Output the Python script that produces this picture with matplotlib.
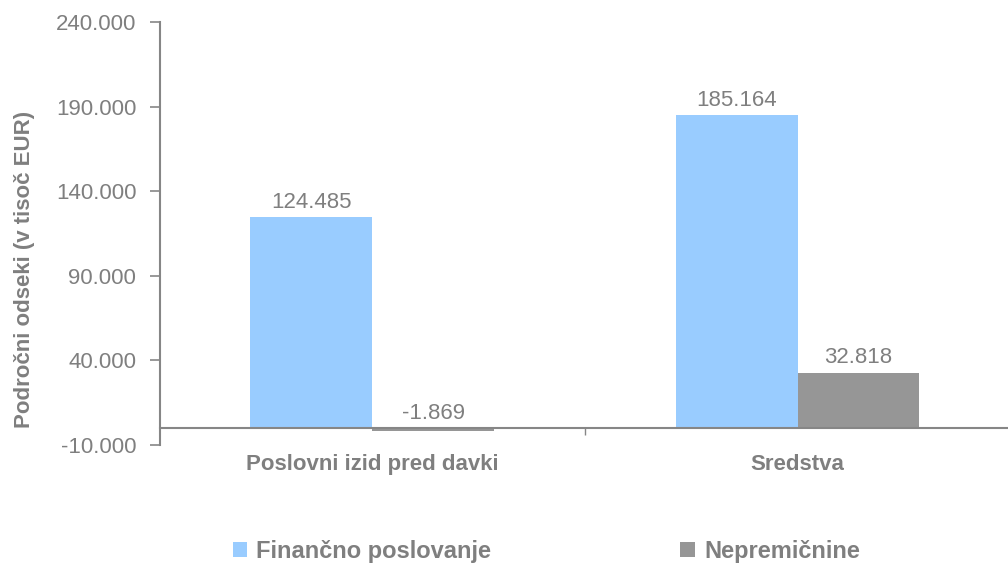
import matplotlib
matplotlib.use("Agg")
import matplotlib.pyplot as plt
import numpy as np
from matplotlib.patches import Patch

categories = ["Poslovni izid pred davki", "Sredstva"]
series_names = ["Finančno poslovanje", "Nepremičnine"]
financno = [124485, 185164]
nepremicnine = [-1869, 32818]
y_ticks = [-10000, 40000, 90000, 140000, 190000, 240000]

colors = ["#99CCFF", "#969696"]
text_gray = "#7F7F7F"
axis_gray = "#868686"

plt.rcParams['font.family'] = ['Liberation Sans', 'DejaVu Sans']

def fmt(v):
    s = f"{abs(v):,}".replace(",", ".")
    return ("-" if v < 0 else "") + s

fig = plt.figure(figsize=(10.08, 5.70), dpi=100)
ax = fig.add_axes([0.1587, 0.2193, 0.8433, 0.7421])

x = np.arange(len(categories))
w = 0.287
for i, (vals, c) in enumerate(zip([financno, nepremicnine], colors)):
    xs = x + (i - 0.5) * w
    ax.bar(xs, vals, width=w, color=c, zorder=2)
    for xi, v in zip(xs, vals):
        ax.annotate(fmt(v), (xi, max(v, 0)), xytext=(0, 3), textcoords="offset points",
                    ha="center", va="bottom", fontsize=16, color=text_gray)

ax.set_xlim(-0.5, 1.5)
ax.set_ylim(-10000, 240000)
ax.set_yticks(y_ticks)
ax.set_yticklabels([fmt(t) for t in y_ticks], fontsize=16, color=text_gray)
ax.tick_params(axis="y", direction="out", length=7, width=1.2, color=axis_gray, pad=10)

ax.spines["bottom"].set_position(("data", 0))
ax.spines["bottom"].set_color(axis_gray)
ax.spines["bottom"].set_linewidth(1.5)
ax.spines["bottom"].set_zorder(3)
ax.spines["left"].set_color(axis_gray)
ax.spines["left"].set_linewidth(1.5)
ax.spines["top"].set_visible(False)
ax.spines["right"].set_visible(False)

ax.set_xticks(x)
ax.set_xticklabels(categories, fontsize=16, fontweight="bold", color=text_gray)
ax.tick_params(axis="x", which="major", length=0, pad=19)
ax.set_xticks([0.5], minor=True)
ax.tick_params(axis="x", which="minor", direction="out", length=5, width=1, color=axis_gray)

ax.set_ylabel("Področni odseki (v tisoč EUR)", fontsize=16, fontweight="bold", color=text_gray)
ax.yaxis.set_label_coords(-0.147, 0.414)

handles = [Patch(facecolor=c, edgecolor="none") for c in colors]
fig.legend(handles, series_names, loc="center", bbox_to_anchor=(0.542, 0.032), ncol=2,
           frameon=False, prop={"size": 17, "weight": "bold"}, labelcolor=text_gray,
           handlelength=0.6, handleheight=0.6, handletextpad=0.4, columnspacing=8.0)

fig.savefig("out.png", dpi=100)
